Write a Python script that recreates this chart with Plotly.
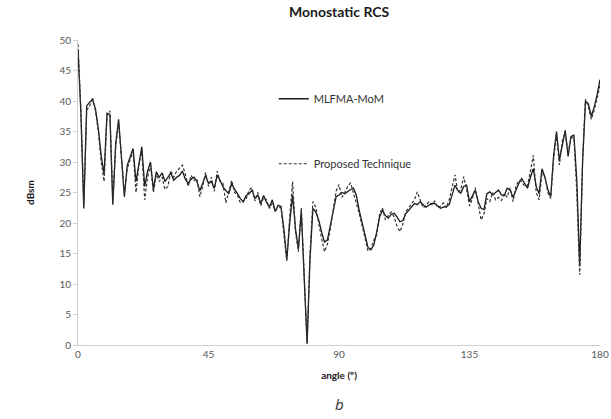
import plotly.graph_objects as go

angles = list(range(0, 181))

mlfma_mom = [
    48.5, 38.0, 22.4, 39.2, 39.8, 40.2, 38.8, 35.5, 31.0, 28.0,
    38.0, 37.8, 23.0, 33.0, 37.0, 31.0, 24.3, 29.5, 31.0, 32.2,
    26.8, 30.0, 32.5, 26.0, 28.5, 30.0, 25.5, 28.4, 27.5, 28.2,
    26.8, 27.5, 28.2, 27.0, 27.5, 27.8, 28.5, 27.2, 26.5, 27.2,
    27.5, 26.8, 25.3, 26.5, 27.8, 26.5, 26.8, 25.7, 27.8, 27.0,
    25.9, 25.3, 24.8, 26.5, 25.5, 24.8, 24.0, 23.5, 24.5, 24.8,
    25.4, 24.0, 24.6, 23.2, 24.5, 23.4, 22.6, 23.8, 21.9, 22.9,
    22.7, 19.0, 14.0, 20.0, 24.6, 19.0, 15.8, 21.9, 12.0, 0.2,
    14.0, 22.4, 21.8, 20.5, 18.5, 16.9, 17.2, 19.5, 22.0, 24.3,
    24.6, 25.0, 24.8, 25.2, 25.5, 25.7, 24.5, 22.0, 20.0, 18.0,
    16.0, 15.6, 16.4, 18.5, 21.0, 22.1, 21.2, 20.8, 21.4, 21.6,
    21.0, 20.2, 20.4, 21.5, 22.1, 22.6, 23.2, 23.0, 23.5, 23.0,
    22.6, 22.9, 23.2, 23.2, 22.8, 22.4, 22.6, 22.7, 23.0, 24.5,
    26.2, 25.3, 24.9, 26.0, 26.2, 23.5, 24.5, 25.4, 23.5, 22.4,
    22.2, 24.8, 25.1, 24.6, 25.0, 25.4, 24.6, 24.5, 25.7, 25.4,
    24.2, 25.5, 26.5, 27.3, 26.5, 25.7, 27.5, 28.9, 26.0, 24.8,
    28.9, 27.5, 25.5, 24.3, 31.0, 35.0, 30.3, 33.0, 35.2, 30.9,
    34.2, 34.4, 27.0, 13.0, 30.0, 40.0, 39.5, 37.5, 39.0, 41.0,
    43.5,
]

proposed = [
    49.3, 38.5, 23.0, 38.5, 39.2, 40.6, 38.5, 35.0, 30.0, 26.8,
    37.5, 38.4, 23.5, 32.5, 36.5, 30.5, 24.8, 29.0, 30.5, 31.8,
    25.0, 29.5, 32.0, 23.8, 27.5, 29.5, 25.0, 28.0, 26.8, 27.5,
    25.5, 26.0, 28.6, 27.5, 28.5, 29.0, 29.5, 28.0, 26.0, 27.8,
    27.0, 27.3, 24.3, 26.0, 28.3, 26.0, 27.5, 25.2, 28.5, 26.8,
    26.5, 23.3, 25.0, 27.0, 25.0, 24.5, 23.3, 23.5, 24.0, 25.4,
    25.8, 23.6, 25.0, 22.8, 24.2, 23.8, 22.4, 23.2, 22.0, 22.5,
    22.5, 18.5, 13.8, 21.0, 26.8, 18.5, 15.3, 22.5, 11.0, 0.3,
    15.0, 23.5, 22.6, 19.8, 17.5, 15.3, 16.5, 19.0, 22.5, 25.2,
    26.3, 24.2, 25.0, 26.0, 26.6, 25.0, 23.5, 21.5, 19.5, 17.2,
    15.4, 15.8, 17.2, 18.0, 21.5, 22.5, 20.5, 21.2, 21.8, 21.0,
    19.5, 18.6, 19.8, 21.8, 22.5, 23.0, 23.8, 25.1, 23.6, 22.5,
    22.8, 23.5, 23.0, 23.6, 22.5, 22.8, 23.3, 22.5, 23.8, 26.0,
    27.9, 25.0, 25.5, 27.6, 25.5, 22.8, 24.0, 25.8, 23.0, 20.5,
    21.5, 24.0, 23.5, 25.0, 23.8, 24.2, 23.7, 24.8, 24.2, 25.8,
    23.5, 26.0, 27.0, 26.8, 26.0, 26.2, 28.5, 31.1, 25.0, 23.8,
    28.2, 27.8, 25.0, 24.0, 30.5, 34.5, 29.5, 33.5, 34.8, 31.5,
    34.0, 34.0, 25.0, 11.5, 30.5, 40.3, 39.0, 37.0, 38.5, 40.5,
    42.5,
]

x_ticks = [0, 45, 90, 135, 180]
y_ticks = [0, 5, 10, 15, 20, 25, 30, 35, 40, 45, 50]

FONT = "Lato"
TICK_COLOR = "#595959"
AXIS_LINE = "#d0d0d0"

fig = go.Figure()
fig.add_trace(go.Scatter(
    x=angles, y=mlfma_mom, mode="lines", name="MLFMA-MoM",
    legendgroup="a",
    line=dict(color="#1a1a1a", width=1.3),
))
fig.add_trace(go.Scatter(
    x=angles, y=proposed, mode="lines", name="Proposed Technique",
    legendgroup="b",
    line=dict(color="#333333", width=1.2, dash="3px,2px"),
))

fig.update_layout(
    width=611, height=419,
    margin=dict(l=78, r=11, t=40, b=74, autoexpand=False),
    paper_bgcolor="white", plot_bgcolor="white",
    font=dict(family=FONT, color=TICK_COLOR, size=10),
    title=dict(text="<b>Monostatic RCS</b>", x=0.555, xanchor="center",
               y=0.972, yanchor="middle",
               font=dict(family=FONT, size=14, color="#1a1a1a")),
    showlegend=True,
    legend=dict(x=0.375, y=0.855, xanchor="left", yanchor="top",
                bgcolor="rgba(0,0,0,0)", tracegroupgap=46,
                font=dict(family=FONT, size=11, color="#333333"),
                itemwidth=30),
    xaxis=dict(
        range=[0, 180], tickmode="array", tickvals=x_ticks,
        ticktext=[str(v) for v in x_ticks],
        showgrid=False, zeroline=False, automargin=False,
        showline=True, linecolor=AXIS_LINE, linewidth=1,
        ticks="", tickfont=dict(size=10, color=TICK_COLOR),
        title=dict(text="<b>angle (º)</b>", standoff=12,
                   font=dict(family=FONT, size=10, color="#1a1a1a")),
    ),
    yaxis=dict(
        range=[0, 50], tickmode="array", tickvals=y_ticks,
        ticktext=[str(v) for v in y_ticks],
        showgrid=False, zeroline=False, automargin=False,
        showline=True, linecolor=AXIS_LINE, linewidth=1,
        ticks="outside", ticklen=4, tickcolor=AXIS_LINE,
        tickfont=dict(size=10, color=TICK_COLOR),
        title=dict(text="<b>dBsm</b>", standoff=22,
                   font=dict(family=FONT, size=10, color="#1a1a1a")),
    ),
    annotations=[dict(
        text="<i>b</i>", xref="paper", yref="paper",
        x=0.5, y=-0.195, xanchor="center", yanchor="middle",
        showarrow=False, font=dict(family="Open Sans", size=15, color="#333333"),
    )],
)

fig.write_html("out.html")
